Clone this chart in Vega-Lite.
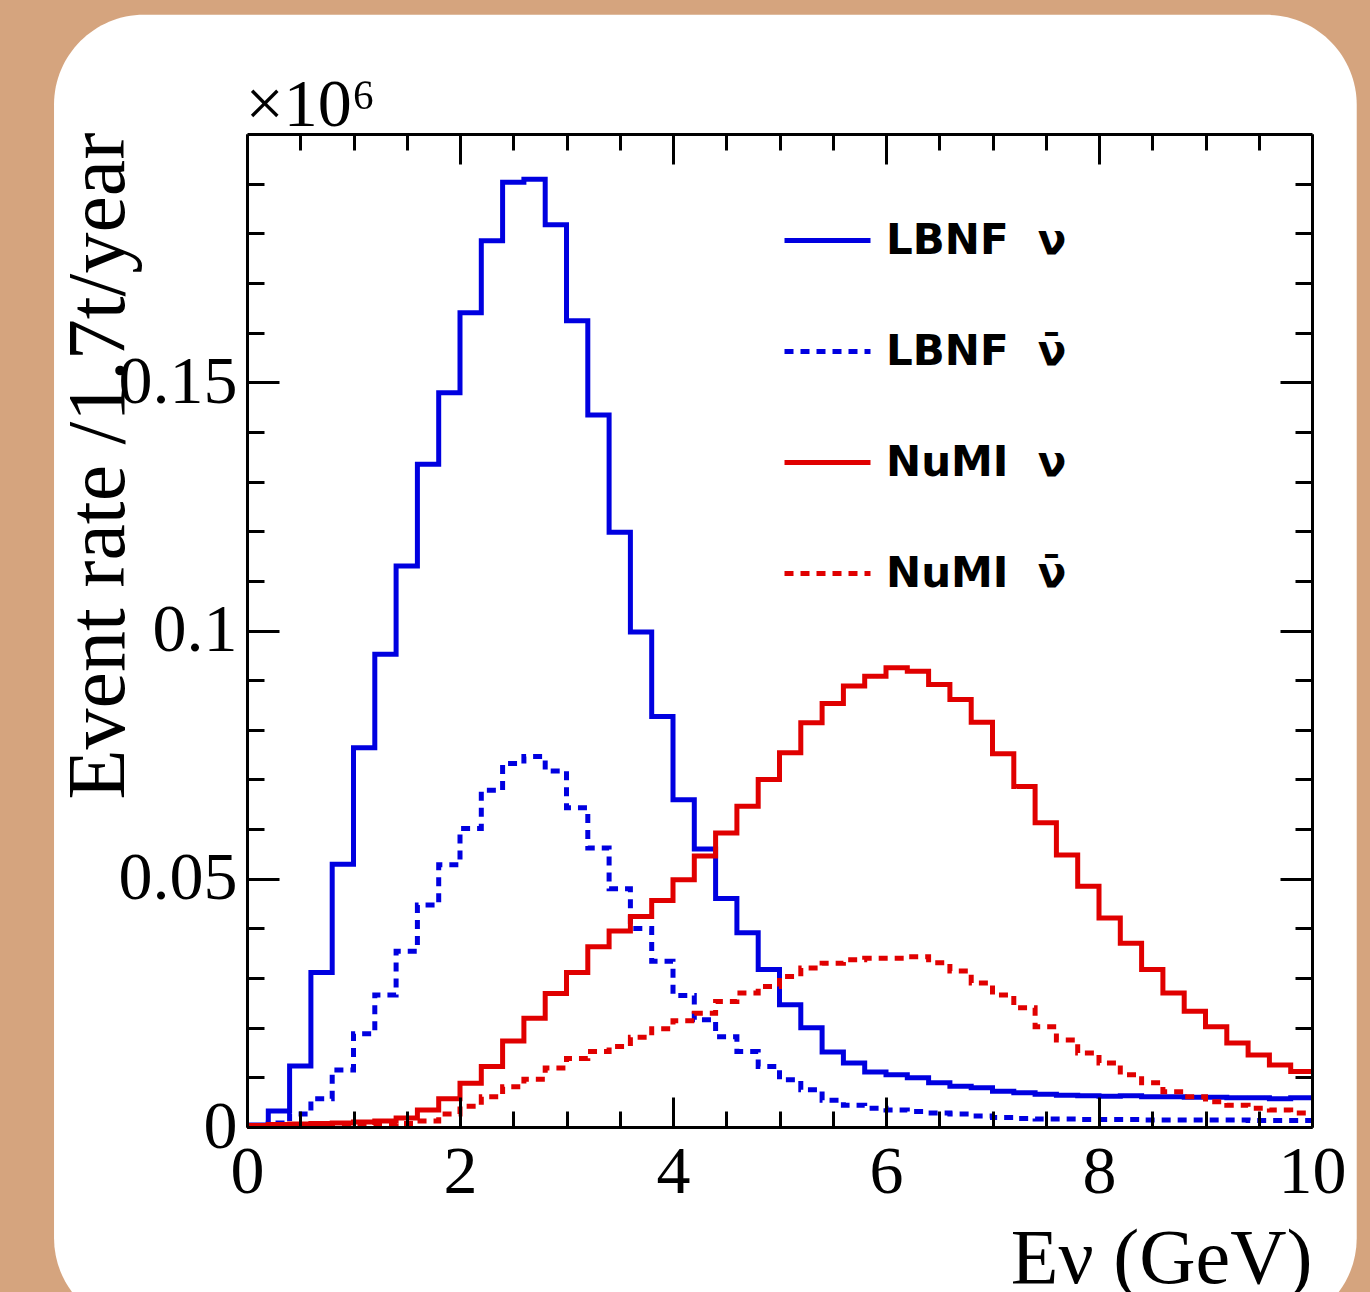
{
  "$schema": "https://vega.github.io/schema/vega-lite/v6.json",
  "width": 1065,
  "height": 993,
  "autosize": {"type": "none"},
  "padding": {"left": 247, "top": 134, "right": 58, "bottom": 165},
  "background": "#d5a47e",
  "config": {
    "view": {"stroke": null},
    "axis": {
      "grid": false, "domainColor": "black", "domainWidth": 3,
      "tickColor": "black", "tickWidth": 3, "labelFont": "Liberation Serif",
      "labelFontSize": 68, "labelColor": "black", "titleFont": "Liberation Serif",
      "titleFontWeight": "normal", "titleColor": "black", "labelFlush": false, "labelOverlap": false
    }
  },
  "datasets": {
    "h": [
      {"E":0.0,"LBNF\u00a0 ν":0.0004,"LBNF\u00a0 ν̄":0.0001,"NuMI\u00a0 ν":0.0003,"NuMI\u00a0 ν̄":0.0001},
      {"E":0.2,"LBNF\u00a0 ν":0.0032,"LBNF\u00a0 ν̄":0.0008,"NuMI\u00a0 ν":0.0005,"NuMI\u00a0 ν̄":0.0002},
      {"E":0.4,"LBNF\u00a0 ν":0.0123,"LBNF\u00a0 ν̄":0.0026,"NuMI\u00a0 ν":0.0006,"NuMI\u00a0 ν̄":0.0002},
      {"E":0.6,"LBNF\u00a0 ν":0.0311,"LBNF\u00a0 ν̄":0.0057,"NuMI\u00a0 ν":0.0007,"NuMI\u00a0 ν̄":0.0003},
      {"E":0.8,"LBNF\u00a0 ν":0.0529,"LBNF\u00a0 ν̄":0.0115,"NuMI\u00a0 ν":0.0008,"NuMI\u00a0 ν̄":0.0003},
      {"E":1.0,"LBNF\u00a0 ν":0.0764,"LBNF\u00a0 ν̄":0.0188,"NuMI\u00a0 ν":0.0010,"NuMI\u00a0 ν̄":0.0004},
      {"E":1.2,"LBNF\u00a0 ν":0.0952,"LBNF\u00a0 ν̄":0.0266,"NuMI\u00a0 ν":0.0012,"NuMI\u00a0 ν̄":0.0005},
      {"E":1.4,"LBNF\u00a0 ν":0.1130,"LBNF\u00a0 ν̄":0.0354,"NuMI\u00a0 ν":0.0018,"NuMI\u00a0 ν̄":0.0007},
      {"E":1.6,"LBNF\u00a0 ν":0.1335,"LBNF\u00a0 ν̄":0.0447,"NuMI\u00a0 ν":0.0034,"NuMI\u00a0 ν̄":0.0012},
      {"E":1.8,"LBNF\u00a0 ν":0.1479,"LBNF\u00a0 ν̄":0.0528,"NuMI\u00a0 ν":0.0057,"NuMI\u00a0 ν̄":0.0026},
      {"E":2.0,"LBNF\u00a0 ν":0.1640,"LBNF\u00a0 ν̄":0.0601,"NuMI\u00a0 ν":0.0088,"NuMI\u00a0 ν̄":0.0042},
      {"E":2.2,"LBNF\u00a0 ν":0.1785,"LBNF\u00a0 ν̄":0.0678,"NuMI\u00a0 ν":0.0122,"NuMI\u00a0 ν̄":0.0061},
      {"E":2.4,"LBNF\u00a0 ν":0.1903,"LBNF\u00a0 ν̄":0.0732,"NuMI\u00a0 ν":0.0173,"NuMI\u00a0 ν̄":0.0081},
      {"E":2.6,"LBNF\u00a0 ν":0.1909,"LBNF\u00a0 ν̄":0.0746,"NuMI\u00a0 ν":0.0219,"NuMI\u00a0 ν̄":0.0096},
      {"E":2.8,"LBNF\u00a0 ν":0.1817,"LBNF\u00a0 ν̄":0.0717,"NuMI\u00a0 ν":0.0269,"NuMI\u00a0 ν̄":0.0119},
      {"E":3.0,"LBNF\u00a0 ν":0.1624,"LBNF\u00a0 ν̄":0.0643,"NuMI\u00a0 ν":0.0311,"NuMI\u00a0 ν̄":0.0138},
      {"E":3.2,"LBNF\u00a0 ν":0.1434,"LBNF\u00a0 ν̄":0.0562,"NuMI\u00a0 ν":0.0363,"NuMI\u00a0 ν̄":0.0152},
      {"E":3.4,"LBNF\u00a0 ν":0.1198,"LBNF\u00a0 ν̄":0.0480,"NuMI\u00a0 ν":0.0395,"NuMI\u00a0 ν̄":0.0162},
      {"E":3.6,"LBNF\u00a0 ν":0.0997,"LBNF\u00a0 ν̄":0.0400,"NuMI\u00a0 ν":0.0424,"NuMI\u00a0 ν̄":0.0181},
      {"E":3.8,"LBNF\u00a0 ν":0.0827,"LBNF\u00a0 ν̄":0.0334,"NuMI\u00a0 ν":0.0456,"NuMI\u00a0 ν̄":0.0198},
      {"E":4.0,"LBNF\u00a0 ν":0.0659,"LBNF\u00a0 ν̄":0.0265,"NuMI\u00a0 ν":0.0498,"NuMI\u00a0 ν̄":0.0214},
      {"E":4.2,"LBNF\u00a0 ν":0.0560,"LBNF\u00a0 ν̄":0.0216,"NuMI\u00a0 ν":0.0546,"NuMI\u00a0 ν̄":0.0229},
      {"E":4.4,"LBNF\u00a0 ν":0.0460,"LBNF\u00a0 ν̄":0.0182,"NuMI\u00a0 ν":0.0592,"NuMI\u00a0 ν̄":0.0253},
      {"E":4.6,"LBNF\u00a0 ν":0.0391,"LBNF\u00a0 ν̄":0.0152,"NuMI\u00a0 ν":0.0646,"NuMI\u00a0 ν̄":0.0270},
      {"E":4.8,"LBNF\u00a0 ν":0.0317,"LBNF\u00a0 ν̄":0.0122,"NuMI\u00a0 ν":0.0700,"NuMI\u00a0 ν̄":0.0283},
      {"E":5.0,"LBNF\u00a0 ν":0.0246,"LBNF\u00a0 ν̄":0.0095,"NuMI\u00a0 ν":0.0754,"NuMI\u00a0 ν̄":0.0303},
      {"E":5.2,"LBNF\u00a0 ν":0.0200,"LBNF\u00a0 ν̄":0.0075,"NuMI\u00a0 ν":0.0814,"NuMI\u00a0 ν̄":0.0320},
      {"E":5.4,"LBNF\u00a0 ν":0.0151,"LBNF\u00a0 ν̄":0.0054,"NuMI\u00a0 ν":0.0853,"NuMI\u00a0 ν̄":0.0330},
      {"E":5.6,"LBNF\u00a0 ν":0.0129,"LBNF\u00a0 ν̄":0.0044,"NuMI\u00a0 ν":0.0888,"NuMI\u00a0 ν̄":0.0337},
      {"E":5.8,"LBNF\u00a0 ν":0.0111,"LBNF\u00a0 ν̄":0.0038,"NuMI\u00a0 ν":0.0908,"NuMI\u00a0 ν̄":0.0340},
      {"E":6.0,"LBNF\u00a0 ν":0.0105,"LBNF\u00a0 ν̄":0.0034,"NuMI\u00a0 ν":0.0925,"NuMI\u00a0 ν̄":0.0340},
      {"E":6.2,"LBNF\u00a0 ν":0.0099,"LBNF\u00a0 ν̄":0.0031,"NuMI\u00a0 ν":0.0918,"NuMI\u00a0 ν̄":0.0343},
      {"E":6.4,"LBNF\u00a0 ν":0.0089,"LBNF\u00a0 ν̄":0.0028,"NuMI\u00a0 ν":0.0891,"NuMI\u00a0 ν̄":0.0331},
      {"E":6.6,"LBNF\u00a0 ν":0.0082,"LBNF\u00a0 ν̄":0.0026,"NuMI\u00a0 ν":0.0861,"NuMI\u00a0 ν̄":0.0314},
      {"E":6.8,"LBNF\u00a0 ν":0.0079,"LBNF\u00a0 ν̄":0.0022,"NuMI\u00a0 ν":0.0815,"NuMI\u00a0 ν̄":0.0290},
      {"E":7.0,"LBNF\u00a0 ν":0.0072,"LBNF\u00a0 ν̄":0.0019,"NuMI\u00a0 ν":0.0752,"NuMI\u00a0 ν̄":0.0266},
      {"E":7.2,"LBNF\u00a0 ν":0.0069,"LBNF\u00a0 ν̄":0.0017,"NuMI\u00a0 ν":0.0686,"NuMI\u00a0 ν̄":0.0240},
      {"E":7.4,"LBNF\u00a0 ν":0.0066,"LBNF\u00a0 ν̄":0.0016,"NuMI\u00a0 ν":0.0613,"NuMI\u00a0 ν̄":0.0202},
      {"E":7.6,"LBNF\u00a0 ν":0.0064,"LBNF\u00a0 ν̄":0.0016,"NuMI\u00a0 ν":0.0548,"NuMI\u00a0 ν̄":0.0175},
      {"E":7.8,"LBNF\u00a0 ν":0.0063,"LBNF\u00a0 ν̄":0.0015,"NuMI\u00a0 ν":0.0485,"NuMI\u00a0 ν̄":0.0149},
      {"E":8.0,"LBNF\u00a0 ν":0.0062,"LBNF\u00a0 ν̄":0.0015,"NuMI\u00a0 ν":0.0421,"NuMI\u00a0 ν̄":0.0129},
      {"E":8.2,"LBNF\u00a0 ν":0.0063,"LBNF\u00a0 ν̄":0.0015,"NuMI\u00a0 ν":0.0370,"NuMI\u00a0 ν̄":0.0105},
      {"E":8.4,"LBNF\u00a0 ν":0.0061,"LBNF\u00a0 ν̄":0.0014,"NuMI\u00a0 ν":0.0317,"NuMI\u00a0 ν̄":0.0089},
      {"E":8.6,"LBNF\u00a0 ν":0.0061,"LBNF\u00a0 ν̄":0.0014,"NuMI\u00a0 ν":0.0270,"NuMI\u00a0 ν̄":0.0071},
      {"E":8.8,"LBNF\u00a0 ν":0.0060,"LBNF\u00a0 ν̄":0.0014,"NuMI\u00a0 ν":0.0233,"NuMI\u00a0 ν̄":0.0061},
      {"E":9.0,"LBNF\u00a0 ν":0.0060,"LBNF\u00a0 ν̄":0.0014,"NuMI\u00a0 ν":0.0202,"NuMI\u00a0 ν̄":0.0051},
      {"E":9.2,"LBNF\u00a0 ν":0.0059,"LBNF\u00a0 ν̄":0.0014,"NuMI\u00a0 ν":0.0169,"NuMI\u00a0 ν̄":0.0044},
      {"E":9.4,"LBNF\u00a0 ν":0.0059,"LBNF\u00a0 ν̄":0.0013,"NuMI\u00a0 ν":0.0145,"NuMI\u00a0 ν̄":0.0038},
      {"E":9.6,"LBNF\u00a0 ν":0.0057,"LBNF\u00a0 ν̄":0.0013,"NuMI\u00a0 ν":0.0125,"NuMI\u00a0 ν̄":0.0034},
      {"E":9.8,"LBNF\u00a0 ν":0.0059,"LBNF\u00a0 ν̄":0.0013,"NuMI\u00a0 ν":0.0112,"NuMI\u00a0 ν̄":0.0028},
      {"E":10.0,"LBNF\u00a0 ν":0.0059,"LBNF\u00a0 ν̄":0.0013,"NuMI\u00a0 ν":0.0112,"NuMI\u00a0 ν̄":0.0028}
    ]
  },
  "layer": [
    {
      "data": {"values": [{}]},
      "mark": {"type": "rect", "fill": "white", "cornerRadius": 90},
      "encoding": {
        "x": {"datum": -1.812, "type": "quantitative",
          "scale": {"domain": [0, 10], "nice": false, "zero": false},
          "axis": {"orient": "top", "zindex": 2, "values": [0,0.5,1,1.5,2,2.5,3,3.5,4,4.5,5,5.5,6,6.5,7,7.5,8,8.5,9,9.5,10],
            "labels": false,
            "title": "×10⁶", "titleFontSize": 68, "titleX": -2, "titleY": -9, "titleAlign": "left", "titleAnchor": "start", "titleBaseline": "alphabetic",
            "tickSize": {"condition": {"test": "datum.value % 2 == 0", "value": -30}, "value": -16}}},
        "x2": {"datum": 10.42},
        "y": {"datum": 0.224, "type": "quantitative",
          "scale": {"domain": [0, 0.2], "nice": false},
          "axis": {"orient": "right", "zindex": 2, "values": [0,0.01,0.02,0.03,0.04,0.05,0.06,0.07,0.08,0.09,0.1,0.11,0.12,0.13,0.14,0.15,0.16,0.17,0.18,0.19],
            "labels": false, "title": null,
            "tickSize": {"condition": {"test": "round(datum.value*100) % 5 == 0", "value": -32}, "value": -17}}},
        "y2": {"datum": -0.0405}
      }
    },
    {
      "data": {"name": "h"},
      "transform": [{"fold": ["LBNF\u00a0 ν", "LBNF\u00a0 ν̄", "NuMI\u00a0 ν", "NuMI\u00a0 ν̄"], "as": ["s", "r"]}],
      "mark": {"type": "line", "interpolate": "step-after", "strokeWidth": 5, "strokeCap": "butt"},
      "encoding": {
        "x": {"field": "E", "type": "quantitative",
          "scale": {"domain": [0, 10], "nice": false, "zero": false},
          "axis": {"orient": "bottom", "zindex": 2, "values": [0,0.5,1,1.5,2,2.5,3,3.5,4,4.5,5,5.5,6,6.5,7,7.5,8,8.5,9,9.5,10],
            "labelExpr": "datum.value % 2 == 0 ? format(datum.value, 'd') : ''",
            "tickSize": {"condition": {"test": "datum.value % 2 == 0", "value": -30}, "value": -16},
            "labelPadding": 41,
            "title": "Eν (GeV)", "titleFontSize": 78, "titleX": 1065, "titleY": 155,
            "titleAlign": "right", "titleAnchor": "end", "titleBaseline": "alphabetic"}},
        "y": {"field": "r", "type": "quantitative",
          "scale": {"domain": [0, 0.2], "nice": false},
          "axis": {"orient": "left", "zindex": 2, "values": [0,0.01,0.02,0.03,0.04,0.05,0.06,0.07,0.08,0.09,0.1,0.11,0.12,0.13,0.14,0.15,0.16,0.17,0.18,0.19],
            "labelExpr": "round(datum.value*100) % 5 == 0 ? format(datum.value, '~g') : ''",
            "tickSize": {"condition": {"test": "round(datum.value*100) % 5 == 0", "value": -32}, "value": -17},
            "labelPadding": 42,
            "title": "Event rate /1.7t/year", "titleFontSize": 82, "titleX": -124, "titleY": -2,
            "titleAngle": 270, "titleAlign": "right", "titleAnchor": "end", "titleBaseline": "alphabetic"}},
        "color": {"field": "s", "type": "nominal",
          "scale": {"domain": ["LBNF\u00a0 ν", "LBNF\u00a0 ν̄", "NuMI\u00a0 ν", "NuMI\u00a0 ν̄"], "range": ["#0000e0", "#0000e0", "#e00000", "#e00000"]},
          "legend": {"orient": "none", "legendX": 535, "legendY": 61, "title": null, "symbolType": "stroke", "symbolSize": 7396, "symbolStrokeWidth": 5, "labelFont": "DejaVu Sans", "labelFontWeight": "bold", "labelFontSize": 42, "labelOffset": 13, "rowPadding": 44, "labelColor": "black", "labelLimit": 400, "padding": 0}},
        "strokeDash": {"field": "s", "type": "nominal",
          "scale": {"domain": ["LBNF\u00a0 ν", "LBNF\u00a0 ν̄", "NuMI\u00a0 ν", "NuMI\u00a0 ν̄"], "range": [[1, 0], [9, 7], [1, 0], [9, 7]]},
          "legend": {"orient": "none", "legendX": 535, "legendY": 61, "title": null, "symbolType": "stroke", "symbolSize": 7396, "symbolStrokeWidth": 5, "labelFont": "DejaVu Sans", "labelFontWeight": "bold", "labelFontSize": 42, "labelOffset": 13, "rowPadding": 44, "labelColor": "black", "labelLimit": 400, "padding": 0}}
      }
    }
  ],
  "resolve": {"axis": {"x": "independent", "y": "independent"}}
}
